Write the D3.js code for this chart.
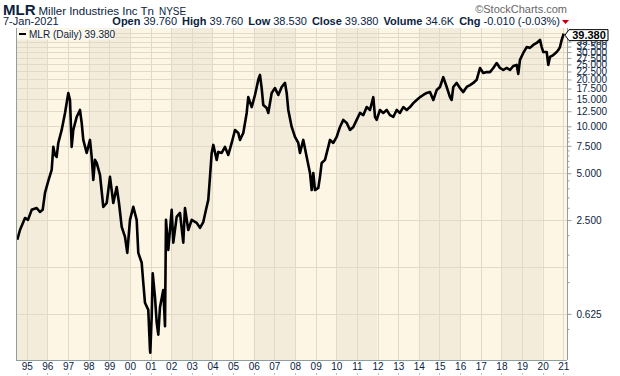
<!DOCTYPE html>
<html><head><meta charset="utf-8">
<script src="https://cdn.jsdelivr.net/npm/d3@7"></script>
<style>html,body{margin:0;padding:0;background:#fff;}svg{display:block;font-family:"Liberation Sans",Arial,sans-serif;}</style>
</head><body><svg id="c" width="620" height="376"></svg>
<script>
const years=[1994.545,1994.675,1994.918,1995.063,1995.242,1995.484,1995.644,1995.775,1995.887,1996.047,1996.211,1996.289,1996.371,1996.453,1996.531,1996.696,1996.857,1997.016,1997.098,1997.180,1997.258,1997.422,1997.582,1997.665,1997.742,1997.907,1998.067,1998.149,1998.227,1998.309,1998.391,1998.551,1998.711,1998.876,1999.036,1999.196,1999.360,1999.472,1999.603,1999.763,1999.874,2000.005,2000.165,2000.329,2000.407,2000.572,2000.649,2000.731,2000.891,2000.974,2000.988,2001.056,2001.105,2001.216,2001.298,2001.376,2001.458,2001.618,2001.701,2001.749,2001.860,2002.025,2002.103,2002.267,2002.427,2002.587,2002.669,2002.829,2002.994,2003.236,2003.396,2003.556,2003.687,2003.798,2003.881,2003.963,2004.041,2004.205,2004.283,2004.448,2004.608,2004.767,2004.932,2005.092,2005.252,2005.334,2005.494,2005.659,2005.736,2005.901,2006.061,2006.221,2006.303,2006.385,2006.463,2006.628,2006.705,2006.870,2007.030,2007.190,2007.355,2007.515,2007.597,2007.674,2007.839,2007.999,2008.159,2008.241,2008.401,2008.566,2008.726,2008.808,2008.886,2008.968,2009.128,2009.210,2009.292,2009.452,2009.612,2009.695,2009.855,2010.019,2010.179,2010.339,2010.504,2010.664,2010.824,2010.988,2011.148,2011.308,2011.473,2011.633,2011.793,2011.875,2011.957,2012.117,2012.277,2012.442,2012.602,2012.762,2012.926,2013.086,2013.246,2013.411,2013.571,2013.731,2013.895,2014.055,2014.215,2014.380,2014.540,2014.700,2014.864,2015.024,2015.184,2015.349,2015.509,2015.591,2015.669,2015.833,2015.993,2016.153,2016.318,2016.478,2016.638,2016.802,2016.962,2017.122,2017.287,2017.447,2017.607,2017.771,2017.931,2018.091,2018.256,2018.416,2018.576,2018.740,2018.818,2018.900,2019.060,2019.225,2019.385,2019.545,2019.709,2019.869,2019.952,2020.029,2020.194,2020.271,2020.354,2020.514,2020.678,2020.756,2020.839,2020.921,2020.998,2021.016];
const closes=[1.87,2.16,2.58,2.51,2.91,2.99,2.82,2.91,3.74,4.46,5.25,7.38,6.55,6.36,7.82,9.48,12.19,16.38,14.77,7.38,9.48,11.49,12.74,10.52,8.18,6.75,8.18,6.36,4.53,6.09,5.82,4.88,3.04,3.22,4.74,3.22,4.08,3.22,2.26,1.95,1.54,2.51,3.04,2.51,1.54,1.33,0.99,0.736,0.663,0.367,0.352,0.60,1.14,0.80,0.55,0.46,0.69,0.89,0.52,2.51,1.61,2.91,1.79,2.62,2.78,1.79,2.99,2.16,2.51,2.40,2.23,2.43,2.91,3.37,4.74,6.75,7.6,6.09,6.85,6.75,7.38,6.55,7.82,9.48,9.07,8.18,9.07,12.19,15.4,13.3,15.9,19.9,21.4,17.6,13.7,13.1,12.19,16.38,17.6,15.9,17.9,19.0,16.38,12.74,9.91,8.55,7.82,6.75,8.18,6.36,5.02,3.9,5.02,3.9,4.02,4.74,5.82,6.09,7.38,8.18,7.82,8.55,9.91,11.0,10.52,9.48,9.91,11.0,12.19,11.8,13.3,12.74,15.4,11.49,11.0,12.74,12.19,12.74,11.8,11.49,12.74,12.19,13.3,12.74,13.3,14.1,14.77,15.4,15.9,16.38,16.6,14.77,17.1,17.9,20.7,17.9,15.4,14.77,17.9,19.0,17.6,16.6,17.9,18.4,19.0,19.9,23.7,22.0,22.3,22.3,23.7,25.5,23.7,23.0,23.7,23.0,24.4,24.8,21.7,26.7,29.6,32.3,31.9,33.3,34.3,35.9,32.3,30.0,30.0,24.8,27.9,28.7,30.0,30.9,32.3,35.9,38.6,39.38];
const yLabelValues=[0.625,2.5,5,7.5,10,12.5,15,17.5,20,22.5,25,27.5,30,32.5,35];
const yGridValues=[0.625,1.25,2.5,5,7.5,10,12.5,15,17.5,20,22.5,25,27.5,30,32.5,35,37.5,40];
const yMinorValues=[0.5,1,1.5,2,3,3.5,4,4.5,5.5,6,6.5,7,8,8.5,9,9.5];
const xTickYears=d3.range(1995,2022);
const lastClose=39.38;
const headerStats=[["Open","39.760"],["High","39.760"],["Low","38.530"],["Close","39.380"],["Volume","34.6K"],["Chg","-0.010 (-0.03%)"]];

const L=16,R=567,T=28,B=360;
const svg=d3.select("#c");
const x=d3.scaleLinear().domain([1994.482,2021.178]).range([L,R]);
const y=d3.scaleLog().domain([0.316,42.8]).range([B,T]);
const navy="#0b2340";

const bandEdges=[x.domain()[0]].concat(xTickYears.filter(d=>d%2===0)).concat([x.domain()[1]]);
for(let i=0;i<bandEdges.length-1;i++){
  const a=bandEdges[i],b=bandEdges[i+1];
  const dark=(Math.floor(a)-1994)%4<2;
  svg.append("rect").attr("x",x(a)).attr("y",T).attr("width",x(b)-x(a)).attr("height",B-T)
    .attr("fill",dark?"#f3ecdb":"#fdf6e4");
}
svg.append("g").selectAll("line").data(xTickYears).join("line")
  .attr("x1",d=>Math.round(x(d))+0.5).attr("x2",d=>Math.round(x(d))+0.5).attr("y1",T).attr("y2",B)
  .attr("stroke","#e2dac6").attr("stroke-width",1);
svg.append("g").selectAll("line").data(yGridValues).join("line")
  .attr("x1",L).attr("x2",R).attr("y1",d=>Math.round(y(d))+0.5).attr("y2",d=>Math.round(y(d))+0.5)
  .attr("stroke","#e2dac6").attr("stroke-width",1);

svg.append("clipPath").attr("id","clip").append("rect").attr("x",L).attr("y",T).attr("width",R-L).attr("height",B-T);
const pts=years.map((t,i)=>[t,closes[i]]);
svg.append("path").datum(pts).attr("clip-path","url(#clip)")
  .attr("d",d3.line().x(d=>x(d[0])).y(d=>y(d[1])))
  .attr("fill","none").attr("stroke","#000").attr("stroke-width",2.6).attr("stroke-linejoin","round");

svg.append("line").attr("x1",L+0.5).attr("x2",L+0.5).attr("y1",T).attr("y2",B).attr("stroke","#8f9f9f");
svg.append("line").attr("x1",L).attr("x2",R).attr("y1",B+0.5).attr("y2",B+0.5).attr("stroke","#8f9f9f");

const ya=svg.append("g").attr("transform",`translate(${R+0.5},0)`)
  .call(d3.axisRight(y).tickValues(yLabelValues).tickFormat(d3.format(".3f")).tickSize(4).tickPadding(5));
ya.select(".domain").attr("stroke","#8f9f9f").attr("d",`M0,${T}V${B}`);
ya.selectAll(".tick line").attr("stroke","#8f9f9f");
ya.selectAll("text").attr("fill",navy).attr("font-size",10).attr("font-family","Liberation Sans, Arial, sans-serif");
const ym=svg.append("g").attr("transform",`translate(${R+0.5},0)`)
  .call(d3.axisRight(y).tickValues(yMinorValues).tickFormat("").tickSize(2));
ym.select(".domain").remove();
ym.selectAll(".tick line").attr("stroke","#8f9f9f");

const xa=svg.append("g").attr("transform",`translate(0,${B})`)
  .call(d3.axisBottom(x).tickValues(xTickYears).tickFormat(d=>String(d%100).padStart(2,"0")).tickSize(0).tickPadding(3));
xa.select(".domain").remove();
xa.selectAll("text").attr("fill",navy).attr("font-size",10).attr("font-family","Liberation Sans, Arial, sans-serif");
svg.append("g").selectAll("line").data(xTickYears).join("line")
  .attr("x1",d=>Math.round(x(d))+0.5).attr("x2",d=>Math.round(x(d))+0.5).attr("y1",373).attr("y2",375)
  .attr("stroke","#b8c0c0");

const ly=y(lastClose);
const my=ly+1.5;
svg.append("path").attr("d",`M${R-2},${my} L${R+2},${my-5.5} H${R+41} V${my+5.5} H${R+2} Z`)
  .attr("fill","#fff").attr("stroke","#000").attr("stroke-width",1);
svg.append("text").attr("x",R+22).attr("y",my+4).attr("text-anchor","middle")
  .attr("font-size",11).attr("font-weight","bold").attr("fill","#000").text(lastClose.toFixed(3));

svg.append("rect").attr("x",L+1).attr("y",T+0.5).attr("width",96).attr("height",11).attr("fill","#fdf8ec");
svg.append("line").attr("x1",L+3).attr("x2",L+10).attr("y1",T+6).attr("y2",T+6).attr("stroke","#000").attr("stroke-width",2);
svg.append("text").attr("x",L+13).attr("y",T+9.5).attr("font-size",10).attr("fill",navy).text("MLR (Daily) 39.380");

const h1=svg.append("text").attr("x",3).attr("y",15).attr("fill",navy);
h1.append("tspan").attr("font-size",15).attr("font-weight","bold").text("MLR");
h1.append("tspan").attr("font-size",11.5).attr("dx",3).text("Miller Industries Inc Tn");
h1.append("tspan").attr("font-size",10).attr("dx",5).text("NYSE");
svg.append("text").attr("x",R).attr("y",13).attr("text-anchor","end").attr("font-size",11).attr("fill","#666").text("\u00A9StockCharts.com");
svg.append("text").attr("x",3).attr("y",25).attr("font-size",11).attr("fill",navy).text("7-Jan-2021");
const h2=svg.append("text").attr("x",R-7).attr("y",25).attr("text-anchor","end").attr("font-size",11).attr("fill",navy);
headerStats.forEach(([k,v],i)=>{
  h2.append("tspan").attr("font-weight","bold").attr("dx",i?5:0).text(k);
  h2.append("tspan").attr("dx",3).text(v);
});
svg.append("path").attr("d",`M${R-5},20 h7 l-3.5,4 Z`).attr("fill","#c00000");
</script></body></html>
